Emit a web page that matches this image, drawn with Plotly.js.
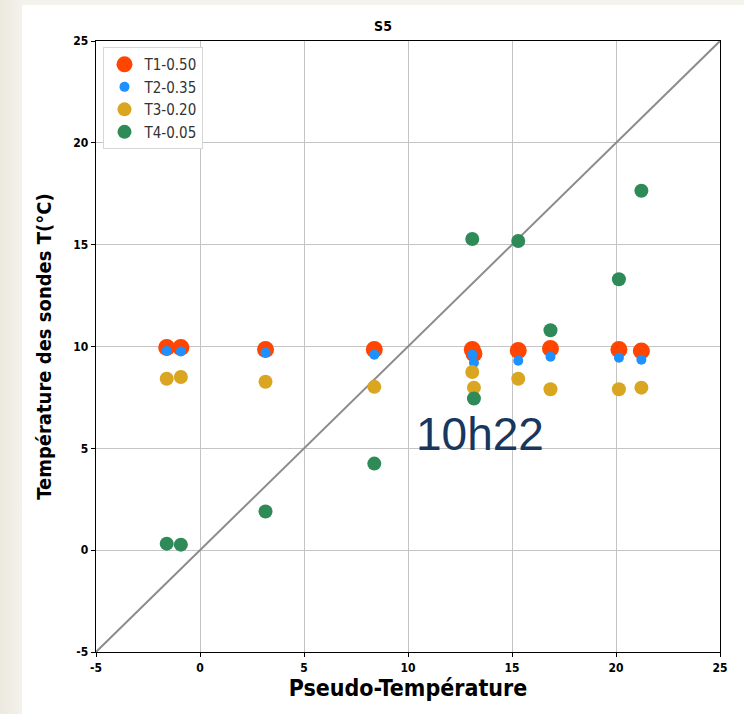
<!DOCTYPE html>
<html>
<head>
<meta charset="utf-8">
<script src="https://cdn.plot.ly/plotly-3.0.1.min.js"></script>
<style>
html,body{margin:0;padding:0;width:744px;height:714px;overflow:hidden;background:linear-gradient(90deg,#ece9de 0px,#f3f2ec 22px,#f4f3ee 744px);}
#chart{position:absolute;left:22px;top:5px;width:722px;height:709px;background:#fff;}
</style>
</head>
<body>
<div id="chart"></div>
<script>
// Data
const pseudoT = [-1.6, -0.92, 3.15, 8.38, 13.09, 13.17, 15.3, 16.85, 20.14, 21.22];
const t1 = [9.95, 9.95, 9.85, 9.85, 9.85, 9.65, 9.8, 9.9, 9.85, 9.78];
const t2 = [9.78, 9.76, 9.7, 9.6, 9.6, 9.2, 9.3, 9.5, 9.45, 9.35];
const t3 = [8.42, 8.5, 8.27, 8.02, 8.75, 7.98, 8.42, 7.9, 7.9, 7.98];
const t4 = [0.32, 0.27, 1.9, 4.25, 15.28, 7.45, 15.18, 10.8, 13.3, 17.65];
const seriesNames = ['T1-0.50', 'T2-0.35', 'T3-0.20', 'T4-0.05'];
const diag = [-5, 25];
const xTicks = [-5, 0, 5, 10, 15, 20, 25];
const yTicks = [-5, 0, 5, 10, 15, 20, 25];
const chartTitle = 'S5';
const xTitle = 'Pseudo-Température';
const yTitle = 'Température des sondes T(°C)';
const stamp = '10h22';

const colors = ['#FF4500', '#1E90FF', '#DAA520', '#2E8B57'];
const sizes = [17, 10, 14, 14];
const vals = [t1, t2, t3, t4];

const traces = [{
  x: diag, y: diag, mode: 'lines', showlegend: false, hoverinfo: 'skip',
  line: {color: '#8c8c8c', width: 2}
}];
vals.forEach((v, i) => {
  traces.push({
    x: pseudoT, y: v, mode: 'markers', name: seriesNames[i],
    marker: {color: colors[i], size: sizes[i], line: {width: 0}}
  });
});

const fam = 'DejaVu Sans Condensed, DejaVu Sans';
const tickFont = {family: fam, size: 12, color: '#000', weight: 'bold'};
const axisCommon = {
  range: [-5, 25], showgrid: true, gridcolor: '#c4c4c4', gridwidth: 1,
  zeroline: false, showline: true, linecolor: '#000', linewidth: 1.3, mirror: true,
  ticks: 'outside', ticklen: 4, tickcolor: '#000', tickfont: tickFont
};

const layout = {
  width: 722, height: 709,
  margin: {l: 74, r: 24, t: 36, b: 62},
  paper_bgcolor: '#fff', plot_bgcolor: '#fff',
  title: {text: chartTitle, x: 0.5, xanchor: 'center', y: 0.977, yanchor: 'top',
          font: {family: fam, size: 14, color: '#000', weight: 'bold'}},
  xaxis: Object.assign({}, axisCommon, {tickvals: xTicks, ticktext: xTicks.map(String),
    title: {text: xTitle, standoff: 6, font: {family: fam, size: 23, color: '#000', weight: 'bold'}}}),
  yaxis: Object.assign({}, axisCommon, {tickvals: yTicks, ticktext: yTicks.map(String),
    title: {text: yTitle, standoff: 16, font: {family: fam, size: 20, color: '#000', weight: 'bold'}}}),
  legend: {x: 0.012, y: 0.99, xanchor: 'left', yanchor: 'top', bgcolor: '#fff',
           bordercolor: '#d6d6d6', borderwidth: 1,
           font: {family: fam, size: 15, color: '#333'},
           tracegroupgap: 0, itemwidth: 30},
  annotations: [{
    text: stamp, xref: 'x', yref: 'y', x: 13.45, y: 5.7, showarrow: false,
    font: {family: 'Liberation Sans, Arial', size: 46, color: '#17375e'}
  }],
  showlegend: true
};

Plotly.newPlot('chart', traces, layout, {staticPlot: true, displayModeBar: false});
</script>
</body>
</html>
